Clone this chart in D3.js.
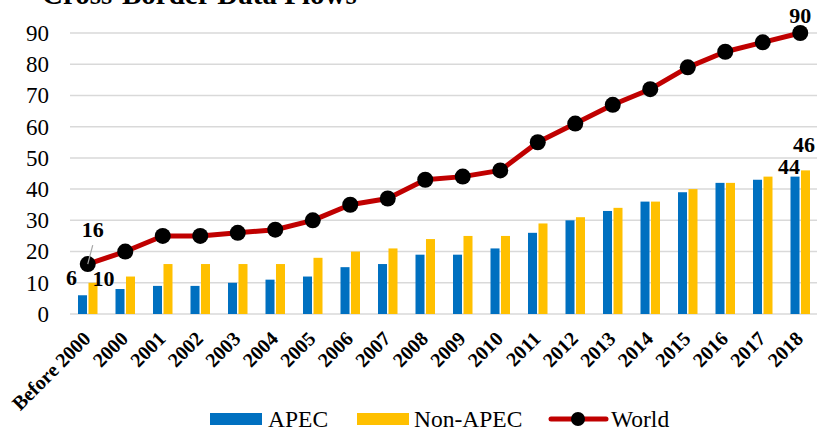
<!DOCTYPE html>
<html>
<head>
<meta charset="utf-8">
<script src="https://cdn.jsdelivr.net/npm/d3@7"></script>
<style>
  body { margin: 0; background: #fff; }
  text { font-family: "Liberation Serif", "Times New Roman", serif; }
</style>
</head>
<body>
<div id="chart"></div>
<script>
const categories = ["Before 2000", "2000", "2001", "2002", "2003", "2004", "2005", "2006", "2007", "2008",
    "2009", "2010", "2011", "2012", "2013", "2014", "2015", "2016", "2017", "2018"];
const apec = [6, 8, 9, 9, 10, 11, 12, 15, 16, 19, 19, 21, 26, 30, 33, 36, 39, 42, 43, 44];
const nonApec = [10, 12, 16, 16, 16, 16, 18, 20, 21, 24, 25, 25, 29, 31, 34, 36, 40, 42, 44, 46];
const world = [16, 20, 25, 25, 26, 27, 30, 35, 37, 43, 44, 46, 55, 61, 67, 72, 79, 84, 87, 90];
const yTicks = [0, 10, 20, 30, 40, 50, 60, 70, 80, 90];
const seriesNames = ["APEC", "Non-APEC"];

document.addEventListener("DOMContentLoaded", function () {
    const width = 817, height = 432;
    const colors = { "APEC": "#0070c0", "Non-APEC": "#ffc000" };

    const svg = d3.select("#chart").append("svg")
        .attr("width", width)
        .attr("height", height);

    // Title (mostly cropped at top)
    svg.append("text")
        .attr("x", 42)
        .attr("y", 4)
        .attr("font-size", 29)
        .attr("font-weight", "bold")
        .text("Cross-Border Data Flows");

    // Scales
    const x0 = d3.scaleBand()
        .domain(categories)
        .range([69, 819])
        .paddingInner(0.48)
        .paddingOuter(0.24);

    const x1 = d3.scaleBand()
        .domain(seriesNames)
        .range([0, x0.bandwidth()])
        .paddingInner(0.14);

    const y = d3.scaleLinear()
        .domain([0, 90])
        .range([314, 33]);

    const cx = d => x0(d) + x0.bandwidth() / 2;

    // Gridlines
    svg.append("g")
        .selectAll("line")
        .data(yTicks)
        .enter()
        .append("line")
        .attr("x1", 70)
        .attr("x2", width)
        .attr("y1", d => y(d))
        .attr("y2", d => y(d))
        .attr("stroke", "#d9d9d9")
        .attr("stroke-width", 1.5);

    // Y axis labels
    const yAxis = svg.append("g")
        .attr("transform", "translate(57,0)")
        .call(d3.axisLeft(y).tickValues(yTicks).tickSize(0).tickPadding(8));
    yAxis.select(".domain").remove();
    yAxis.selectAll("text")
        .attr("font-size", 23)
        .attr("font-family", "Liberation Serif, serif")
        .attr("fill", "#000");

    // X axis labels
    const xAxis = svg.append("g")
        .attr("transform", "translate(0,314)")
        .call(d3.axisBottom(x0).tickSize(0).tickPadding(0));
    xAxis.select(".domain").remove();
    xAxis.selectAll("text")
        .attr("font-size", 20)
        .attr("font-weight", "bold")
        .attr("font-family", "Liberation Serif, serif")
        .attr("fill", "#000")
        .attr("text-anchor", "end")
        .attr("dy", null)
        .attr("transform", "translate(4,26) rotate(-45)");

    // Bars
    const rows = categories.map((c, i) => ({ cat: c, vals: [
        { key: "APEC", v: apec[i] }, { key: "Non-APEC", v: nonApec[i] }] }));

    svg.append("g")
        .selectAll("g")
        .data(rows)
        .enter()
        .append("g")
        .attr("transform", d => `translate(${x0(d.cat)},0)`)
        .selectAll("rect")
        .data(d => d.vals)
        .enter()
        .append("rect")
        .attr("x", d => x1(d.key))
        .attr("y", d => y(d.v))
        .attr("width", x1.bandwidth())
        .attr("height", d => y(0) - y(d.v))
        .attr("fill", d => colors[d.key]);

    // World line
    const line = d3.line()
        .x((d, i) => cx(categories[i]))
        .y(d => y(d));

    svg.append("path")
        .datum(world)
        .attr("fill", "none")
        .attr("stroke", "#c00000")
        .attr("stroke-width", 5)
        .attr("stroke-linejoin", "round")
        .attr("d", line);

    svg.append("g")
        .selectAll("circle")
        .data(world)
        .enter()
        .append("circle")
        .attr("cx", (d, i) => cx(categories[i]))
        .attr("cy", d => y(d))
        .attr("r", 8)
        .attr("fill", "#000");

    // Data labels
    const last = categories.length - 1;
    const labelStyle = sel => sel.attr("font-size", 22).attr("font-weight", "bold").attr("fill", "#000");

    svg.append("line")
        .attr("x1", cx(categories[0]) + 5)
        .attr("y1", y(world[0]) - 19)
        .attr("x2", cx(categories[0]))
        .attr("y2", y(world[0]))
        .attr("stroke", "#a6a6a6")
        .attr("stroke-width", 1.2);

    svg.append("text").call(labelStyle)
        .attr("x", cx(categories[0]) + 5).attr("y", y(world[0]) - 27)
        .attr("text-anchor", "middle").text(world[0]);
    svg.append("text").call(labelStyle)
        .attr("x", x0(categories[0]) + x1("APEC") - 1).attr("y", y(apec[0]) - 10)
        .attr("text-anchor", "end").text(apec[0]);
    svg.append("text").call(labelStyle)
        .attr("x", x0(categories[0]) + x1("Non-APEC") + 4).attr("y", y(nonApec[0]) + 3)
        .attr("text-anchor", "start").text(nonApec[0]);
    svg.append("text").call(labelStyle)
        .attr("x", cx(categories[last])).attr("y", y(world[last]) - 10)
        .attr("text-anchor", "middle").text(world[last]);
    svg.append("text").call(labelStyle)
        .attr("x", x0(categories[last]) + x1("APEC") + x1.bandwidth() / 2 - 6).attr("y", y(apec[last]) - 3)
        .attr("text-anchor", "middle").text(apec[last]);
    svg.append("text").call(labelStyle)
        .attr("x", x0(categories[last]) + x1("Non-APEC") - 8).attr("y", y(nonApec[last]) - 18)
        .attr("text-anchor", "start").text(nonApec[last]);

    // Legend
    const legend = svg.append("g").attr("transform", "translate(0,419)");
    legend.append("rect").attr("x", 210).attr("y", -6).attr("width", 52).attr("height", 12).attr("fill", colors["APEC"]);
    legend.append("text").attr("x", 268).attr("y", 8).attr("font-size", 23.5).text("APEC");
    legend.append("rect").attr("x", 357).attr("y", -6).attr("width", 52).attr("height", 12).attr("fill", colors["Non-APEC"]);
    legend.append("text").attr("x", 414).attr("y", 8).attr("font-size", 23.5).text("Non-APEC");
    legend.append("line").attr("x1", 551).attr("x2", 606).attr("y1", 0).attr("y2", 0)
        .attr("stroke", "#c00000").attr("stroke-width", 5).attr("stroke-linecap", "round");
    legend.append("circle").attr("cx", 578).attr("cy", 0).attr("r", 7).attr("fill", "#000");
    legend.append("text").attr("x", 611).attr("y", 8).attr("font-size", 23.5).text("World");
});
</script>
</body>
</html>
